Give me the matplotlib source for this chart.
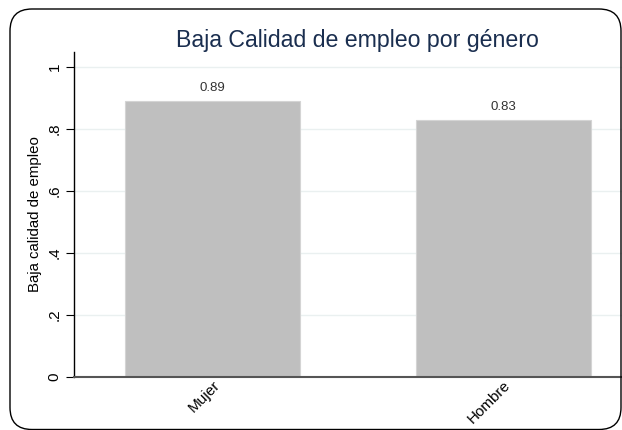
import matplotlib.pyplot as plt
from matplotlib.patches import FancyBboxPatch

plt.rcParams['font.family'] = ['Liberation Sans', 'DejaVu Sans']

categories = ['Mujer', 'Hombre']
values = [0.89, 0.83]
yticks = [0, 0.2, 0.4, 0.6, 0.8, 1.0]
ytick_labels = ['0', '.2', '.4', '.6', '.8', '1']

fig = plt.figure(figsize=(6.22, 4.30), dpi=100)
fig.patch.set_facecolor('white')

# rounded frame around the whole graph, drawn in pixel units
frame = FancyBboxPatch((10, 0.5), 611, 420.5,
                       boxstyle='round,pad=0,rounding_size=22',
                       transform=None, facecolor='none',
                       edgecolor='black', linewidth=1.0, zorder=0)
fig.patches.append(frame)

ax = fig.add_axes([74 / 622, 1 - 377 / 430, 1 - 74 / 622, (377 - 52) / 430])
x = range(len(categories))
ax.bar(x, values, width=0.6, color='#bfbfbf', edgecolor='#d4d4d4',
       linewidth=0.8, zorder=2)
for xi, v in zip(x, values):
    ax.annotate('%.2f' % v, (xi, v), xytext=(0, 5), textcoords='offset points',
                ha='center', va='bottom', fontsize=9.5, color='#333333')

ax.set_xlim(-0.476, 1.407)
ax.set_ylim(0, 1.048)
ax.set_yticks(yticks)
ax.set_yticklabels(ytick_labels, rotation=90, va='center', fontsize=11)
ax.set_xticks(list(x))
ax.set_xticklabels(categories, rotation=45, ha='right', rotation_mode='anchor', fontsize=11)
ax.tick_params(axis='x', length=0, pad=1)
ax.tick_params(axis='y', length=6, width=0.8, pad=3)
ax.grid(axis='y', color='#eaf0f0', linewidth=1.0, zorder=0)
ax.set_axisbelow(True)
for s in ['top', 'right']:
    ax.spines[s].set_visible(False)
ax.spines['left'].set_linewidth(1.0)
ax.spines['bottom'].set_color('#555555')
ax.spines['bottom'].set_linewidth(1.5)
ax.set_ylabel('Baja calidad de empleo', fontsize=10.8, labelpad=4)

fig.text(357 / 622, 1 - 40 / 430, 'Baja Calidad de empleo por género',
         ha='center', va='center', fontsize=16.7, color='#1a2e4f')

fig.savefig('out.png', dpi=100)
